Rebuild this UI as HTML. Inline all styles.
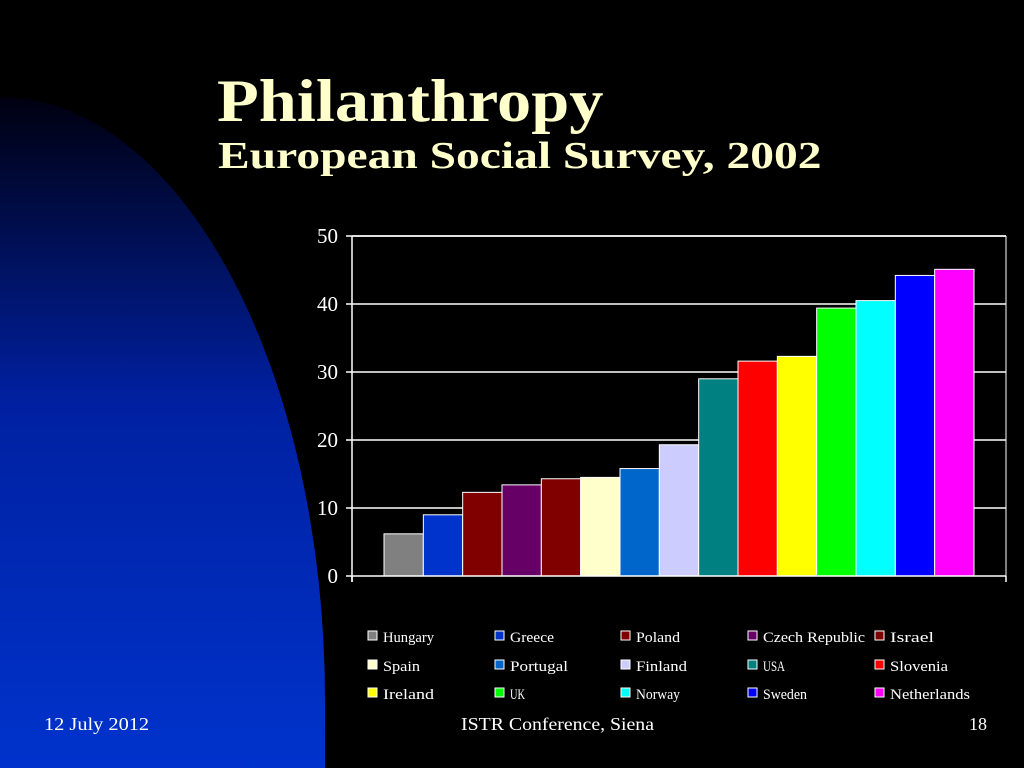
<!DOCTYPE html>
<html><head><meta charset="utf-8">
<style>
html,body{margin:0;padding:0;background:#000;overflow:hidden;}
#slide{position:relative;width:1024px;height:768px;overflow:hidden;background:#000;font-family:"Liberation Serif",serif;}
.t{position:absolute;white-space:nowrap;transform-origin:0 0;}
svg{display:block;}
</style></head>
<body>
<div id="slide">
<svg width="1024" height="768" style="position:absolute;left:0;top:0">
<defs><linearGradient id="bg" gradientUnits="userSpaceOnUse" x1="0" y1="97" x2="0" y2="768">
<stop offset="0" stop-color="#000010"/><stop offset="0.45" stop-color="#0020a0"/><stop offset="1" stop-color="#0033cc"/></linearGradient></defs>
<path d="M0,97 A325,603 0 0 1 325,700 L325,768 L0,768 Z" fill="url(#bg)"/>
</svg>
<div class="t" style="left:217px;top:66px;font-size:60px;font-weight:bold;color:#ffffcc;line-height:70px;transform:scaleX(1.14);">Philanthropy</div>
<div class="t" style="left:218px;top:133px;font-size:38px;font-weight:bold;color:#ffffcc;line-height:46px;transform:scaleX(1.25);">European Social Survey, 2002</div>
<svg id="chart" width="1024" height="768" style="position:absolute;left:0;top:0"></svg>
<div class="t" style="left:44px;top:714px;font-size:18px;color:#fff;transform:scaleX(1.13);">12 July 2012</div>
<div class="t" style="left:461px;top:714px;font-size:18px;color:#fff;transform:scaleX(1.1);">ISTR Conference, Siena</div>
<div class="t" style="left:969px;top:714px;font-size:18px;color:#fff;">18</div>
</div>
<script>
const categories=["Hungary","Greece","Poland","Czech Republic","Israel","Spain","Portugal","Finland","USA","Slovenia","Ireland","UK","Norway","Sweden","Netherlands"];
const values=[6.2,9.0,12.3,13.4,14.3,14.5,15.8,19.3,29.0,31.6,32.3,39.4,40.5,44.2,45.1];
const colors=["#808080","#0033cc","#800000","#660066","#800000","#ffffcc","#0066cc","#ccccff","#008080","#ff0000","#ffff00","#00ff00","#00ffff","#0000ff","#ff00ff"];
const yTicks=[0,10,20,30,40,50];
const NS="http://www.w3.org/2000/svg";
const svg=document.getElementById('chart');
const X0=352,X1=1006,Y0=576,Y1=236,YMAX=50,PAD=32;
const bw=(X1-X0-2*PAD)/categories.length;
function y(v){return Y0-(v/YMAX)*(Y0-Y1);}
function x(i){return X0+PAD+i*bw;}
function mk(t,a){const e=document.createElementNS(NS,t);for(const k in a)e.setAttribute(k,a[k]);svg.appendChild(e);return e;}
yTicks.forEach(v=>{
 if(v>0){const g=mk('line',{x1:X0,x2:X1,y1:y(v),y2:y(v),stroke:'#fff','stroke-width':1.5});
 
 }
 const tk=mk('line',{x1:X0-6,x2:X0,y1:y(v),y2:y(v),stroke:'#fff','stroke-width':1.5});
 
 
 const t=mk('text',{x:X0-14,y:y(v)+7,'text-anchor':'end','font-size':21,fill:'#fff','font-family':'Liberation Serif, serif'});
 t.textContent=v;
 
 
});
values.forEach((v,i)=>{
 const r=mk('rect',{x:x(i),y:y(v),width:bw,height:Y0-y(v),fill:colors[i],stroke:'#fff','stroke-width':1});
 
 
});
const ax=mk('line',{x1:X0,x2:X0,y1:Y1,y2:Y0+6,stroke:'#fff','stroke-width':1.5});


const bx=mk('line',{x1:X0,x2:X1,y1:Y0,y2:Y0,stroke:'#fff','stroke-width':1.5});


[X0,X1].forEach(xx=>{const e=mk('line',{x1:xx,x2:xx,y1:Y0,y2:Y0+6,stroke:'#fff','stroke-width':1.5});
 
 });
const rx=mk('line',{x1:X1,x2:X1,y1:Y1,y2:Y0,stroke:'#fff','stroke-width':1});


const tp=mk('line',{x1:X0,x2:X1,y1:Y1,y2:Y1,stroke:'#fff','stroke-width':1.5});


const LX=[368,495,621,748,875],LY=[637,666,694];
categories.forEach((c,i)=>{
 const lx=LX[i%5],ly=LY[Math.floor(i/5)];
 const g=mk('g',{});
 
 
 const s=document.createElementNS(NS,'rect');
 s.setAttribute('x',lx);s.setAttribute('y',ly-6);s.setAttribute('width',9);s.setAttribute('height',9);
 s.setAttribute('fill',colors[i]);s.setAttribute('stroke','#fff');s.setAttribute('stroke-width',1);
 g.appendChild(s);
 const t=document.createElementNS(NS,'text');
 t.setAttribute('x',lx+15);t.setAttribute('y',ly+5);t.setAttribute('font-size',15);t.setAttribute('fill','#fff');
 t.setAttribute('font-family','Liberation Serif, serif');
 t.setAttribute('textLength',Math.round(c.length*7.3));
 t.setAttribute('lengthAdjust','spacingAndGlyphs');
 t.textContent=c;g.appendChild(t);
});
</script>
</body></html>
